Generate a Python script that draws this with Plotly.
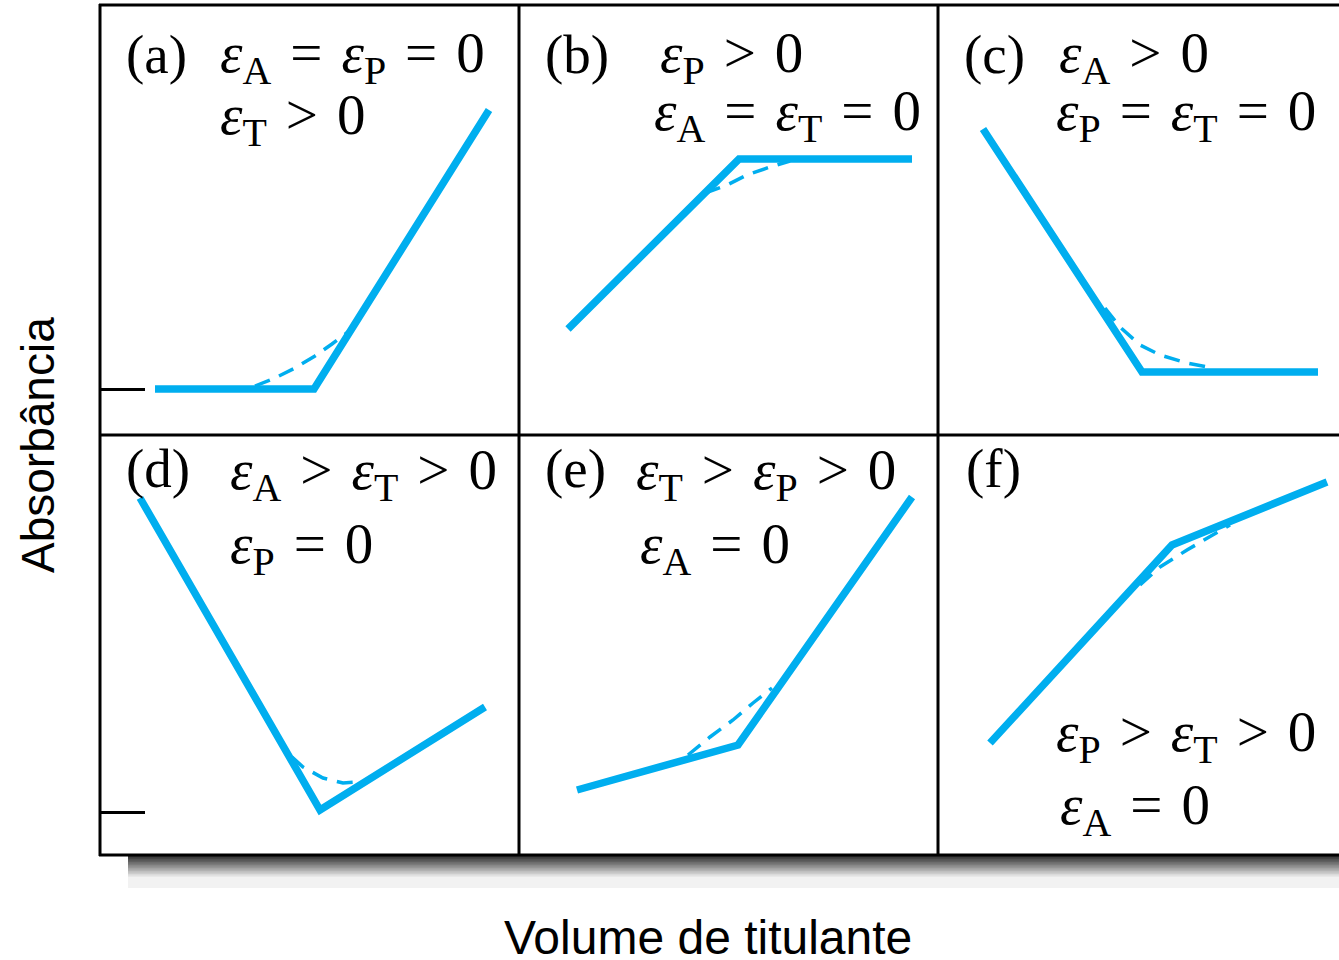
import plotly.graph_objects as go

W, H = 1339, 960
BLUE = "#00AEEF"

# ---- data (arbitrary volume / absorbance units, per panel) ----
a_x = [55, 214, 389]
a_y = [46, 46, 325]
a_dx = [155, 175, 195, 215, 232, 248]
a_dy = [49, 57, 67, 79, 91, 103]

b_x = [49, 220, 393]
b_y = [106, 276, 276]
b_dx = [186, 208, 228, 251, 271]
b_dy = [242, 250, 260, 268, 274]

c_x = [45, 204, 380]
c_y = [306, 63, 63]
c_dx = [167, 182, 202, 222, 249, 275]
c_dy = [127, 108, 90, 80, 72, 67]

d_x = [40, 220, 385]
d_y = [357, 45, 148]
d_dx = [192, 203, 223, 243, 258]
d_dy = [98, 88, 77, 72, 73]

e_x = [58, 219, 393]
e_y = [65, 110, 358]
e_dx = [169, 191, 214, 234, 253]
e_dy = [100, 118, 135, 152, 167]

f_x = [52, 234, 389]
f_y = [112, 310, 373]
f_dx = [202, 222, 249, 275, 292]
f_dy = [270, 288, 305, 320, 330]

baseline_top = [46]      # reference absorbance level, panel (a)
baseline_bottom = [43]   # reference absorbance level, panel (d)

panel_labels = ["(a)", "(b)", "(c)", "(d)", "(e)", "(f)"]
x_title = "Volume de titulante"
y_title = "Absorbância"

E = "<i>ε</i>"
S = " \u200A"   # slightly wide space
def sub(s):
    return "<sub>" + s + "</sub>"

cond_text = [
    [E + sub("A") + S + "=" + S + E + sub("P") + S + "=" + S + "0", E + sub("T") + S + ">" + S + "0"],
    [E + sub("P") + S + ">" + S + "0", E + sub("A") + S + "=" + S + E + sub("T") + S + "=" + S + "0"],
    [E + sub("A") + S + ">" + S + "0", E + sub("P") + S + "=" + S + E + sub("T") + S + "=" + S + "0"],
    [E + sub("A") + S + ">" + S + E + sub("T") + S + ">" + S + "0", E + sub("P") + S + "=" + S + "0"],
    [E + sub("T") + S + ">" + S + E + sub("P") + S + ">" + S + "0", E + sub("A") + S + "=" + S + "0"],
    [E + sub("P") + S + ">" + S + E + sub("T") + S + ">" + S + "0", E + sub("A") + S + "=" + S + "0"],
]

# ---- layout geometry (reference pixels) ----
col_edges = [100, 519, 938, 1339]
row_edges = [5, 435, 855]

def px(x):
    return x / W

def py(y):
    return 1 - y / H

fig = go.Figure()

panels = [
    (a_x, a_y, a_dx, a_dy),
    (b_x, b_y, b_dx, b_dy),
    (c_x, c_y, c_dx, c_dy),
    (d_x, d_y, d_dx, d_dy),
    (e_x, e_y, e_dx, e_dy),
    (f_x, f_y, f_dx, f_dy),
]

layout_axes = {}
for i, (sx, sy, dx, dy) in enumerate(panels):
    r, c = divmod(i, 3)
    n = i + 1
    xa = "x" if n == 1 else f"x{n}"
    ya = "y" if n == 1 else f"y{n}"
    fig.add_trace(go.Scatter(x=dx, y=dy, mode="lines", xaxis=xa, yaxis=ya,
                             line=dict(color=BLUE, width=3.5, dash="16px,10px"),
                             showlegend=False, hoverinfo="skip"))
    fig.add_trace(go.Scatter(x=sx, y=sy, mode="lines", xaxis=xa, yaxis=ya,
                             line=dict(color=BLUE, width=7.5),
                             showlegend=False, hoverinfo="skip"))
    x0, x1 = col_edges[c], col_edges[c + 1]
    y0, y1 = row_edges[r], row_edges[r + 1]
    xname = "xaxis" if n == 1 else f"xaxis{n}"
    yname = "yaxis" if n == 1 else f"yaxis{n}"
    layout_axes[xname] = dict(domain=[px(x0), px(x1)], range=[0, x1 - x0],
                              visible=False, fixedrange=True, anchor=ya)
    yax = dict(domain=[py(y1), py(y0)], range=[0, y1 - y0],
               showgrid=False, zeroline=False, showticklabels=False,
               showline=False, fixedrange=True, anchor=xa)
    if i == 0:
        yax.update(tickvals=baseline_top, ticks="inside", ticklen=45,
                   tickwidth=2.5, tickcolor="black")
    elif i == 3:
        yax.update(tickvals=baseline_bottom, ticks="inside", ticklen=45,
                   tickwidth=2.5, tickcolor="black")
    else:
        yax.update(visible=False)
    layout_axes[yname] = yax

fig.update_layout(**layout_axes)

shapes = []
# shadow under the frame: stacked rectangles, darkest first
shapes.append(dict(type="rect", xref="paper", yref="paper",
                   x0=px(128), x1=1, y0=py(888), y1=py(856),
                   fillcolor="rgb(242,242,242)", line=dict(width=0), layer="below"))
n_strips = 14
for k in range(n_strips):
    ys0 = 856 + k * 1.5
    g = int(55 + (232 - 55) * k / (n_strips - 1))
    shapes.append(dict(type="rect", xref="paper", yref="paper",
                       x0=px(128), x1=1, y0=py(877), y1=py(ys0),
                       fillcolor=f"rgb({g},{g},{g})", line=dict(width=0),
                       layer="below"))
# frame
for xe in col_edges[:3]:
    shapes.append(dict(type="line", xref="paper", yref="paper",
                       x0=px(xe), x1=px(xe), y0=py(row_edges[2] + 1), y1=py(row_edges[0] - 1),
                       line=dict(color="black", width=3)))
for ye in row_edges:
    shapes.append(dict(type="line", xref="paper", yref="paper",
                       x0=px(col_edges[0] - 1), x1=1, y0=py(ye), y1=py(ye),
                       line=dict(color="black", width=3)))

annotations = []
SERIF = "Liberation Serif"
FS = 57

def ann(text, x, y, size=FS, family=SERIF, **kw):
    d = dict(text=text, xref="paper", yref="paper", x=px(x), y=py(y),
             xanchor="left", yanchor="middle", showarrow=False,
             font=dict(family=family, size=size, color="black"))
    d.update(kw)
    annotations.append(d)

label_pos = [(124, 54), (543, 54), (962, 54), (124, 468), (543, 468), (964, 468)]
for lab, (lx, ly) in zip(panel_labels, label_pos):
    ann(lab, lx, ly, size=55)

cond_pos = [
    [(218, 57), (218, 119)],
    [(658, 57), (652, 115)],
    [(1057, 57), (1054, 115)],
    [(228, 474), (228, 548)],
    [(634, 474), (638, 548)],
    [(1054, 736), (1058, 809)],
]
for texts, poss in zip(cond_text, cond_pos):
    for t, (cx, cy) in zip(texts, poss):
        ann(t, cx, cy)

# axis titles
annotations.append(dict(text=y_title, xref="paper", yref="paper", x=px(38), y=py(445),
                        xanchor="center", yanchor="middle", showarrow=False, textangle=-90,
                        font=dict(family="Liberation Sans", size=46, color="black")))
annotations.append(dict(text=x_title, xref="paper", yref="paper", x=px(708), y=py(937),
                        xanchor="center", yanchor="middle", showarrow=False,
                        font=dict(family="Liberation Sans", size=48, color="black")))

fig.update_layout(width=W, height=H, margin=dict(l=0, r=0, t=0, b=0),
                  paper_bgcolor="white", plot_bgcolor="rgba(0,0,0,0)",
                  shapes=shapes, annotations=annotations, showlegend=False)

fig.write_html("out.html", config={"displayModeBar": False},
               post_script="document.body.style.margin='0';document.body.style.overflow='hidden';")
